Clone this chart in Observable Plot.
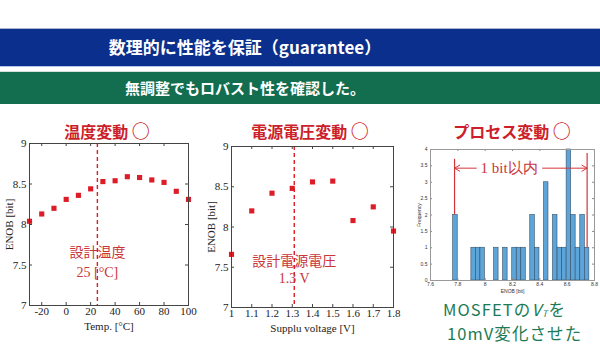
<!DOCTYPE html>
<html><head><meta charset="utf-8">
<script src="https://cdn.jsdelivr.net/npm/d3@7"></script>
<script src="https://cdn.jsdelivr.net/npm/@observablehq/plot@0.6"></script>
<style>
html,body{margin:0;padding:0;background:#fff}
body{width:600px;height:361px;position:relative;overflow:hidden;font-family:"Noto Sans CJK JP","Noto Sans",sans-serif}
.abs{position:absolute}
#band1{left:0;top:28px;width:600px;height:37px;background:#0a2f8c;border-top:1px solid #aab5d0;border-bottom:1px solid #b8c6e6}
#band2{left:0;top:71px;width:600px;height:32px;background:#136d4f;border-top:1px solid #d6ddd8}
.bandtext{left:0;width:490px;text-align:center;color:#fff;font-weight:700;white-space:nowrap}
.ctitle{color:#cc1f2b;font-size:16px;font-weight:700;white-space:nowrap;transform:translateX(-50%);line-height:20px}
.green{color:#1c7b55;font-size:16.5px;white-space:nowrap;line-height:24px;letter-spacing:1.1px}
svg{overflow:visible}
</style></head>
<body>
<div id="band1" class="abs"></div>
<div id="band2" class="abs"></div>
<div class="abs bandtext" style="top:35px;font-size:17px;line-height:24px">数理的に性能を保証（guarantee）</div>
<div class="abs bandtext" style="top:76px;font-size:15px;line-height:24px">無調整でもロバスト性を確認した。</div>
<div class="abs ctitle" style="left:107px;top:120px">温度変動 <span style="font-size:18px">○</span></div>
<div class="abs ctitle" style="left:310px;top:120px">電源電圧変動 <span style="font-size:18px">○</span></div>
<div class="abs ctitle" style="left:512px;top:120px">プロセス変動 <span style="font-size:18px">○</span></div>
<div id="c1" class="abs" style="left:0;top:138px"></div>
<div id="c2" class="abs" style="left:200px;top:141px"></div>
<div id="c3" class="abs" style="left:410px;top:140px"></div>
<div class="abs green" style="left:443px;top:297px">MOSFETの<i>V<span style="font-size:9px;position:relative;top:1px">T</span></i>を</div>
<div class="abs green" style="left:447px;top:321px">10mV変化させた</div>
<script>
// ---- data ----
const tempC = [-30, -20, -10, 0, 10, 20, 30, 40, 50, 60, 70, 80, 90, 100];
const tempEnob = [8.04, 8.13, 8.20, 8.31, 8.36, 8.44, 8.53, 8.54, 8.59, 8.58, 8.55, 8.52, 8.41, 8.31];
const tempTicks = [-20, 0, 20, 40, 60, 80, 100];
const designTemp = 25.5;

const vdd = [1.0, 1.1, 1.2, 1.3, 1.4, 1.5, 1.6, 1.7, 1.8];
const vddEnob = [7.66, 8.20, 8.42, 8.48, 8.56, 8.57, 8.08, 8.25, 7.95];
const vddTicks = [1, 1.1, 1.2, 1.3, 1.4, 1.5, 1.6, 1.7, 1.8];
const designVdd = 1.31;

const enobTicks = [7, 7.5, 8, 8.5, 9];

// process-variation histogram (non-empty bins only)
const binLo = [7.766, 7.899, 7.932, 7.965, 8.065, 8.131, 8.198, 8.231, 8.264, 8.330, 8.364, 8.430, 8.496, 8.530, 8.563, 8.596, 8.629, 8.662, 8.696, 8.729];
const binCount = [2, 1, 1, 1, 1, 1, 1, 1, 1, 2, 1, 3, 2, 1, 1, 4, 2, 1, 2, 1];
const binWidth = 0.0332;
const histXTicks = [7.6, 7.8, 8, 8.2, 8.4, 8.6, 8.8];
const histYTicks = [0, 0.5, 1, 1.5, 2, 2.5, 3, 3.5, 4];
const spanLo = 7.776, spanHi = 8.746;

// ---- styles ----
const red = "#dc1c26";
const annRed = "#c9353b";
const serif = "'Liberation Serif','DejaVu Serif',serif";
const sans = "'Noto Sans CJK JP','Noto Sans',sans-serif";
const fmt = d => String(d);

function boxTicks(xt, yt, pw, ph, len, stroke) {
  return [
    Plot.tickX(xt, {x: d => d, insetTop: ph - len, stroke}),
    Plot.tickX(xt, {x: d => d, insetBottom: ph - len, stroke}),
    Plot.tickY(yt, {y: d => d, insetRight: pw - len, stroke}),
    Plot.tickY(yt, {y: d => d, insetLeft: pw - len, stroke})
  ];
}

// ---- chart 1: temperature ----
{
  const W = 200, H = 200, ml = 29, mr = 12, mt = 5, mb = 33;
  const p = Plot.plot({
    width: W, height: H, marginLeft: ml, marginRight: mr, marginTop: mt, marginBottom: mb,
    style: {fontFamily: serif, fontSize: "11px", color: "#222", background: "transparent"},
    x: {domain: [-30, 100]},
    y: {domain: [7, 9]},
    marks: [
      Plot.ruleX([designTemp], {stroke: red, strokeWidth: 1.4, strokeDasharray: "4,3"}),
      Plot.text(["設計温度"], {x: designTemp, y: 7.65, text: d => d, fill: annRed, fontSize: 14, fontFamily: sans}),
      Plot.text(["25 [°C]"], {x: designTemp, y: 7.41, text: d => d, fill: annRed, fontSize: 14, fontFamily: serif}),
      Plot.dot(tempC.map((t, i) => ({t, e: tempEnob[i]})), {x: "t", y: "e", symbol: "square", fill: red, r: 2.9}),
      ...boxTicks(tempTicks, enobTicks, W - ml - mr, H - mt - mb, 3, "#444"),
      Plot.frame({stroke: "#444"}),
      Plot.axisX(tempTicks, {tickSize: 0, tickPadding: 2, tickFormat: fmt, label: "Temp. [°C]", labelArrow: "none", labelAnchor: "center", labelOffset: 24}),
      Plot.axisY(enobTicks, {tickSize: 0, tickPadding: 3, tickFormat: fmt, label: "ENOB [bit]", labelArrow: "none", labelAnchor: "center", labelOffset: 24})
    ]
  });
  document.getElementById("c1").appendChild(p);
}

// ---- chart 2: supply voltage ----
{
  const W = 210, H = 200, ml = 31, mr = 17, mt = 5, mb = 34;
  const p = Plot.plot({
    width: W, height: H, marginLeft: ml, marginRight: mr, marginTop: mt, marginBottom: mb,
    style: {fontFamily: serif, fontSize: "11px", color: "#222", background: "transparent"},
    x: {domain: [1, 1.8]},
    y: {domain: [7, 9]},
    marks: [
      Plot.ruleX([designVdd], {stroke: red, strokeWidth: 1.4, strokeDasharray: "4,3"}),
      Plot.text(["設計電源電圧"], {x: designVdd, y: 7.57, text: d => d, fill: annRed, fontSize: 14, fontFamily: sans}),
      Plot.text(["1.3 V"], {x: designVdd, y: 7.36, text: d => d, fill: annRed, fontSize: 14, fontFamily: serif}),
      Plot.dot(vdd.map((v, i) => ({v, e: vddEnob[i]})), {x: "v", y: "e", symbol: "square", fill: red, r: 2.9}),
      ...boxTicks(vddTicks, enobTicks, W - ml - mr, H - mt - mb, 3, "#444"),
      Plot.frame({stroke: "#444"}),
      Plot.axisX(vddTicks, {tickSize: 0, tickPadding: 2, tickFormat: fmt, label: "Supplu voltage [V]", labelArrow: "none", labelAnchor: "center", labelOffset: 24}),
      Plot.axisY(enobTicks, {tickSize: 0, tickPadding: 3, tickFormat: fmt, label: "ENOB [bit]", labelArrow: "none", labelAnchor: "center", labelOffset: 24})
    ]
  });
  document.getElementById("c2").appendChild(p);
}

// ---- chart 3: process histogram ----
{
  const W = 190, H = 155, ml = 20, mr = 6, mt = 9, mb = 15;
  const bins = binLo.map((lo, i) => ({lo, hi: lo + binWidth, n: binCount[i]}));
  const arrowY = 3.43;
  const p = Plot.plot({
    width: W, height: H, marginLeft: ml, marginRight: mr, marginTop: mt, marginBottom: mb,
    style: {fontFamily: "'Liberation Sans',Arial,sans-serif", fontSize: "5px", color: "#333", background: "transparent"},
    x: {domain: [7.6, 8.8]},
    y: {domain: [0, 4]},
    marks: [
      Plot.rectY(bins, {x1: "lo", x2: "hi", y: "n", fill: "#5da4d8", stroke: "#34506a", strokeWidth: 0.6, inset: 0}),
      Plot.ruleX([spanLo], {y1: 2, y2: 3.70, stroke: "#d3343a", strokeWidth: 1.2}),
      Plot.ruleX([spanHi], {y1: 1, y2: 3.88, stroke: "#d3343a", strokeWidth: 1.2}),
      Plot.arrow([{a: 7.935, b: spanLo}, {a: 8.42, b: spanHi}], {x1: "a", x2: "b", y1: arrowY, y2: arrowY, stroke: "#d3343a", strokeWidth: 1, headLength: 9, bend: 0}),
      Plot.text(["1 bit以内"], {x: 8.175, y: arrowY, text: d => d, fill: "#c9353b", fontSize: 15, fontFamily: serif}),
      ...boxTicks(histXTicks, histYTicks, W - ml - mr, H - mt - mb, 2, "#888"),
      Plot.frame({stroke: "#999"}),
      Plot.axisX(histXTicks, {tickSize: 0, tickPadding: 2, label: "ENOB [bit]", labelArrow: "none", labelAnchor: "center", labelOffset: 12, tickFormat: d => d === 8 ? "8" : d.toFixed(1)}),
      Plot.axisY(histYTicks, {tickSize: 0, tickPadding: 3, tickFormat: fmt, label: "Frequency", labelArrow: "none", labelAnchor: "center", labelOffset: 13})
    ]
  });
  document.getElementById("c3").appendChild(p);
}
</script>
</body></html>
